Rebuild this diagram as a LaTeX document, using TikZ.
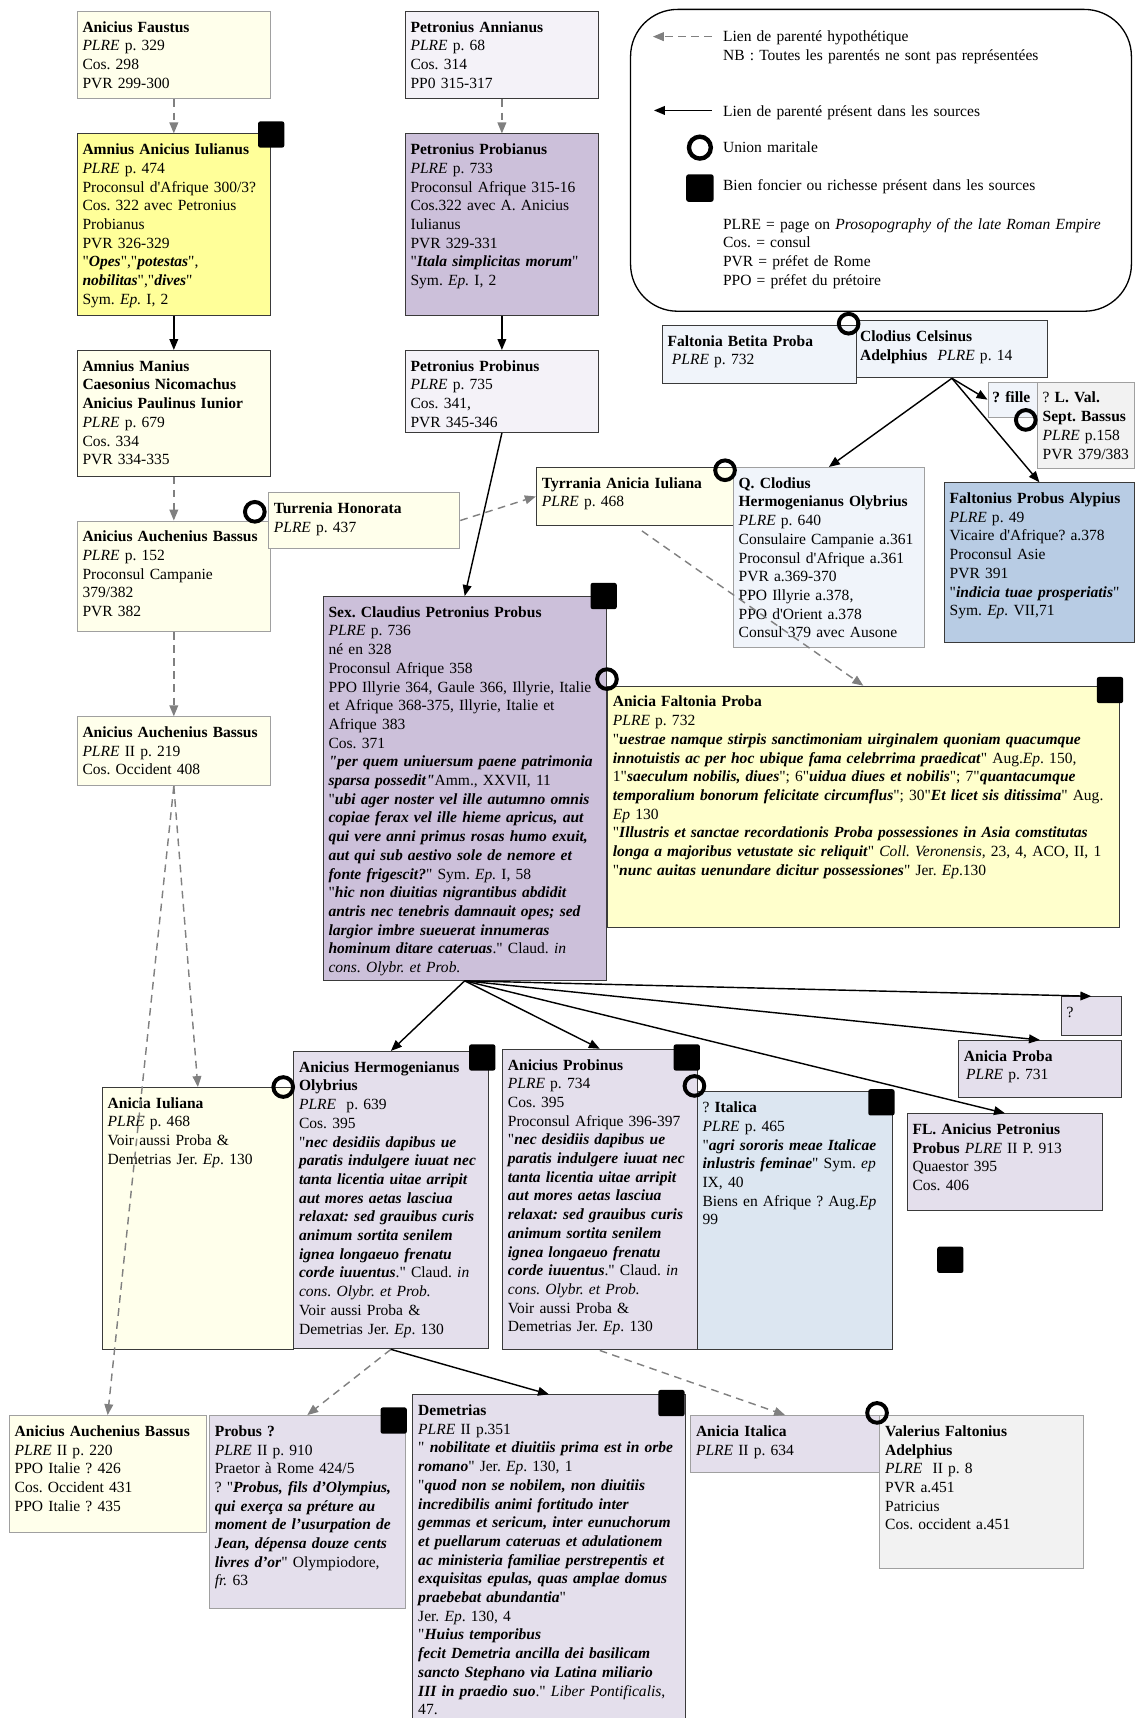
\documentclass[tikz,border=0pt]{standalone}
\usepackage{fontspec}
\setmainfont{Liberation Serif}[Ligatures=TeXOff]
\usepackage{tikz}
\usetikzlibrary{arrows.meta}
\frenchspacing

\definecolor{cIvory}{HTML}{FFFFEB}
\definecolor{cLemon}{HTML}{FFFF99}
\definecolor{cCream}{HTML}{FFFFCC}
\definecolor{cMauve}{HTML}{CCC0DA}
\definecolor{cPaleMauve}{HTML}{F4F2F8}
\definecolor{cLilac}{HTML}{E4DFEC}
\definecolor{cPaleBlue}{HTML}{F0F4FA}
\definecolor{cSky}{HTML}{DCE6F1}
\definecolor{cSteel}{HTML}{B8CCE4}
\definecolor{cSmoke}{HTML}{F2F2F2}
\definecolor{cEdge}{HTML}{3A3A3A}
\definecolor{cFaintEdge}{HTML}{A0A0A0}
\definecolor{cHyp}{HTML}{808080}

\newcommand{\pfont}{\fontsize{14.2}{17.1}\selectfont}
\newcommand{\bi}[1]{\textbf{\textit{#1}}}
\newcommand{\plre}{\textit{PLRE}}

\tikzset{
  pers/.style={draw=cEdge, line width=0.9pt, anchor=north west, align=left,
    inner xsep=5pt, inner ysep=0pt, text height=19pt, font=\pfont},
  faint/.style={draw=cFaintEdge},
  link/.style={-{Triangle[length=10pt,width=8pt]}, line width=1.3pt},
  hyp/.style={-{Triangle[length=10pt,width=8pt]}, draw=cHyp, line width=1.3pt, dash pattern=on 7pt off 5pt},
  union/.style={circle, draw, line width=3.6pt, minimum size=18pt, inner sep=0pt},
  estate/.style={fill=black, rounded corners=2pt, minimum size=24pt, inner sep=0pt},
  legtxt/.style={anchor=base west, inner sep=0pt, align=left, text width=370pt, font=\pfont},
}

\begin{document}
\begin{tikzpicture}[x=1pt, y=-1pt]
\useasboundingbox (0,0) rectangle (1039,1571);

% Legend
\node[draw, line width=1.2pt, rounded corners=43pt, anchor=north west, minimum width=458pt, minimum height=276pt, inner sep=0pt] (legend) at (576,8) {};
\coordinate (hypA) at (651,33.5);
\coordinate (hypB) at (597,33.5);
\draw[hyp] (hypA) -- (hypB);
\coordinate (srcA) at (651,101);
\coordinate (srcB) at (598,101);
\draw[link] (srcA) -- (srcB);
\node[union, minimum size=20pt, line width=4pt] (legU) at (640,135) {};
\node[estate, minimum size=25pt] (legE) at (640,172) {};
\node[legtxt] (legHyp) at (661,38) {Lien de parenté hypothétique\\NB : Toutes les parentés ne sont pas représentées};
\node[legtxt] (legSrc) at (661,106.5) {Lien de parenté présent dans les sources};
\node[legtxt] (legUnion) at (661,139.5) {Union maritale};
\node[legtxt] (legEstate) at (661,174.5) {Bien foncier ou richesse présent dans les sources};
\node[legtxt] (legAbbr) at (661,209.5) {PLRE = page on \textit{Prosopography of the late Roman Empire}\\Cos. = consul\\PVR = préfet de Rome\\PPO = préfet du prétoire};

% Anicii, left column
\node[pers, faint, fill=cIvory, text width=167pt, text depth=61pt] (faustus) at (70,10)
  {\textbf{Anicius Faustus}\\\plre{} p. 329\\Cos. 298\\PVR 299-300};
\node[pers, fill=cLemon, text width=167pt, text depth=147pt] (iulianus) at (70,122)
  {\textbf{Amnius Anicius Iulianus}\\\plre{} p. 474\\Proconsul d'Afrique 300/3?\\Cos. 322 avec Petronius\\Probianus\\PVR 326-329\\"\bi{Opes}","\bi{potestas}",\\\bi{nobilitas}","\bi{dives}"\\Sym. \textit{Ep.} I, 2};
\node[pers, fill=cIvory, text width=167pt, text depth=96pt] (paulinus) at (70,320)
  {\textbf{Amnius Manius}\\\textbf{Caesonius Nicomachus}\\\textbf{Anicius Paulinus Iunior}\\\plre{} p. 679\\Cos. 334\\PVR 334-335};
\node[pers, faint, fill=cIvory, text width=167pt, text depth=82pt] (bassus1) at (70,476)
  {\textbf{Anicius Auchenius Bassus}\\\plre{} p. 152\\Proconsul Campanie\\379/382\\PVR 382};
\node[pers, faint, fill=cIvory, text width=165pt, text depth=32pt] (honorata) at (245,450)
  {\textbf{Turrenia Honorata}\\\plre{} p. 437};
\node[pers, faint, fill=cIvory, text width=167pt, text depth=44pt] (bassus2) at (70,655)
  {\textbf{Anicius Auchenius Bassus}\\\plre{} II p. 219\\Cos. Occident 408};

% Petronii
\node[pers, fill=cPaleMauve, text width=167pt, text depth=61pt] (annianus) at (370,10)
  {\textbf{Petronius Annianus}\\\plre{} p. 68\\Cos. 314\\PP0 315-317};
\node[pers, fill=cMauve, text width=167pt, text depth=147pt] (probianus) at (370,122)
  {\textbf{Petronius Probianus}\\\plre{} p. 733\\Proconsul Afrique 315-16\\Cos.322 avec A. Anicius\\Iulianus\\PVR 329-331\\"\bi{Itala simplicitas morum}"\\Sym. \textit{Ep.} I, 2};
\node[pers, fill=cPaleMauve, text width=167pt, text depth=56pt] (probinus) at (370,320)
  {\textbf{Petronius Probinus}\\\plre{} p. 735\\Cos. 341,\\PVR 345-346};
\node[pers, fill=cIvory, text width=170pt, text depth=34pt] (tyrrania) at (490,427)
  {\textbf{Tyrrania Anicia Iuliana}\\\plre{} p. 468};

% Clodii
\node[pers, fill=cPaleBlue, text width=168pt, text depth=34pt] (betita) at (605,297)
  {\textbf{Faltonia Betita Proba}\\\hspace*{4pt}\plre{} p. 732};
\node[pers, fill=cPaleBlue, inner xsep=3pt, text width=168pt, text depth=33pt] (celsinus) at (783,293)
  {\textbf{Clodius Celsinus}\\\textbf{Adelphius}\ \ \plre{} p. 14};
\node[pers, faint, fill=cPaleBlue, inner xsep=4pt, text width=39pt, text depth=13pt] (fille) at (903,349)
  {\mbox{\textbf{? fille}}};
\node[pers, faint, fill=cSmoke, text width=79pt, text depth=60pt] (sbassus) at (948,349)
  {? \textbf{L. Val.}\\\textbf{Sept. Bassus}\\\plre{} p.158\\PVR 379/383};
\node[pers, faint, fill=cPaleBlue, text width=165pt, text depth=146pt] (olybrius) at (670,427)
  {\textbf{Q. Clodius}\\\textbf{Hermogenianus Olybrius}\\\plre{} p. 640\\Consulaire Campanie a.361\\Proconsul d'Afrique a.361\\PVR a.369-370\\PPO Illyrie a.378,\\PPO d'Orient a.378\\Consul 379 avec Ausone};
\node[pers, fill=cSteel, text width=164pt, text depth=127pt] (alypius) at (863,441)
  {\textbf{Faltonius Probus Alypius}\\\plre{} p. 49\\Vicaire d'Afrique? a.378\\Proconsul Asie\\PVR 391\\"\bi{indicia tuae prosperiatis}"\\Sym. \textit{Ep.} VII,71};

% Probus and Proba
\node[pers, fill=cMauve, text width=249pt, text depth=332pt] (probus) at (295,545)
  {\textbf{Sex. Claudius Petronius Probus}\\\plre{} p. 736\\né en 328\\Proconsul Afrique 358\\PPO Illyrie 364, Gaule 366, Illyrie, Italie\\et Afrique 368-375, Illyrie, Italie et\\Afrique 383\\Cos. 371\\
  \bi{"per quem uniuersum paene patrimonia}\\\bi{sparsa possedit"}Amm., XXVII, 11\\
  "\bi{ubi ager noster vel ille autumno omnis}\\\bi{copiae ferax vel ille hieme apricus, aut}\\\bi{qui vere anni primus rosas humo exuit,}\\\bi{aut qui sub aestivo sole de nemore et}\\\bi{fonte frigescit?}" Sym. \textit{Ep.} I, 58\\
  "\bi{hic non diuitias nigrantibus abdidit}\\\bi{antris nec tenebris damnauit opes; sed}\\\bi{largior imbre sueuerat innumeras}\\\bi{hominum ditare cateruas}." Claud. \textit{in}\\\textit{cons. Olybr. et Prob.}};
\node[pers, fill=cCream, text width=458pt, text depth=202pt] (proba) at (555,627)
  {\textbf{Anicia Faltonia Proba}\\\plre{} p. 732\\
  "\bi{uestrae namque stirpis sanctimoniam uirginalem quoniam quacumque}\\
  \bi{innotuistis ac per hoc ubique fama celebrrima praedicat}" Aug.\textit{Ep}. 150,\\
  1"\bi{saeculum nobilis, diues}"; 6"\bi{uidua diues et nobilis}"; 7"\bi{quantacumque}\\
  \bi{temporalium bonorum felicitate circumflus}"; 30"\bi{Et licet sis ditissima}" Aug.\\
  \textit{Ep} 130\\
  "\bi{Illustris et sanctae recordationis Proba possessiones in Asia comstitutas}\\
  \bi{longa a majoribus vetustate sic reliquit}" \textit{Coll. Veronensis}, 23, 4, ACO, II, 1\\
  "\bi{nunc auitas uenundare dicitur possessiones}" Jer. \textit{Ep}.130};

% Children of Probus and Proba
\node[pers, fill=cLilac, text width=45pt, text depth=16pt] (unknown) at (970,911) {?};
\node[pers, fill=cLilac, text width=139pt, text depth=33pt] (aproba) at (876,951)
  {\textbf{Anicia Proba}\\\hspace*{2pt}\plre{} p. 731};
\node[pers, fill=cLilac, text width=169pt, text depth=69pt] (flprobus) at (829,1018)
  {\textbf{FL. Anicius Petronius}\\\textbf{Probus} \plre{} II P. 913\\Quaestor 395\\Cos. 406};
\node[pers, fill=cIvory, text width=165pt, text depth=221pt] (iuliana) at (93,994)
  {\textbf{Anicia Iuliana}\\\plre{} p. 468\\Voir aussi Proba \&\\Demetrias Jer. \textit{Ep}. 130};
\node[pers, fill=cLilac, text width=168pt, text depth=253pt] (olybrius2) at (268,961)
  {\textbf{Anicius Hermogenianus}\\\textbf{Olybrius}\\\plre{}\ \ p. 639\\Cos. 395\\
  "\bi{nec desidiis dapibus ue}\\\bi{paratis indulgere iuuat nec}\\\bi{tanta licentia uitae arripit}\\\bi{aut mores aetas lasciua}\\\bi{relaxat: sed grauibus curis}\\\bi{animum sortita senilem}\\\bi{ignea longaeuo frenatu}\\\bi{corde iuuentus}." Claud. \textit{in}\\\textit{cons. Olybr. et Prob.}\\Voir aussi Proba \&\\Demetrias Jer. \textit{Ep}. 130};
\node[pers, fill=cLilac, text width=168pt, text depth=256pt] (aprobinus) at (459,959)
  {\textbf{Anicius Probinus}\\\plre{} p. 734\\Cos. 395\\Proconsul Afrique 396-397\\
  "\bi{nec desidiis dapibus ue}\\\bi{paratis indulgere iuuat nec}\\\bi{tanta licentia uitae arripit}\\\bi{aut mores aetas lasciua}\\\bi{relaxat: sed grauibus curis}\\\bi{animum sortita senilem}\\\bi{ignea longaeuo frenatu}\\\bi{corde iuuentus}." Claud. \textit{in}\\\textit{cons. Olybr. et Prob.}\\Voir aussi Proba \&\\Demetrias Jer. \textit{Ep}. 130};
\node[pers, fill=cSky, text width=169pt, text depth=217pt] (italica) at (637,998)
  {? \textbf{Italica}\\\plre{} p. 465\\"\bi{agri sororis meae Italicae}\\\bi{inlustris feminae}" Sym. \textit{ep}\\IX, 40\\Biens en Afrique ? Aug.\textit{Ep}\\99};

% Grandchildren
\node[pers, faint, fill=cIvory, text width=170pt, text depth=88pt] (bassus3) at (8,1294)
  {\textbf{Anicius Auchenius Bassus}\\\plre{} II p. 220\\PPO Italie ? 426\\Cos. Occident 431\\PPO Italie ? 435};
\node[pers, faint, fill=cLilac, text width=169pt, text depth=157pt] (probus3) at (191,1294)
  {\textbf{Probus ?}\\\plre{} II p. 910\\Praetor à Rome 424/5\\? "\bi{Probus, fils d’Olympius,}\\\bi{qui exerça sa préture au}\\\bi{moment de l’usurpation de}\\\bi{Jean, dépensa douze cents}\\\bi{livres d’or}" Olympiodore,\\\textit{fr.} 63};
\node[pers, fill=cLilac, text width=239pt, text depth=286pt] (demetrias) at (377,1275)
  {\textbf{Demetrias}\\\plre{} II p.351\\" \bi{nobilitate et diuitiis prima est in orbe}\\\bi{romano}" Jer. \textit{Ep}. 130, 1\\
  "\bi{quod non se nobilem, non diuitiis}\\\bi{incredibilis animi fortitudo inter}\\\bi{gemmas et sericum, inter eunuchorum}\\\bi{et puellarum cateruas et adulationem}\\\bi{ac ministeria familiae perstrepentis et}\\\bi{exquisitas epulas, quas amplae domus}\\\bi{praebebat abundantia}"\\Jer. \textit{Ep}. 130, 4\\
  "\bi{Huius temporibus}\\\bi{fecit Demetria ancilla dei basilicam}\\\bi{sancto Stephano via Latina miliario}\\\bi{III in praedio suo}." \textit{Liber Pontificalis},\\47.};
\node[pers, faint, fill=cLilac, text width=163pt, text depth=33pt] (aitalica) at (631,1294)
  {\textbf{Anicia Italica}\\\plre{} II p. 634};
\node[pers, faint, fill=cSmoke, text width=176pt, text depth=121pt] (valerius) at (804,1294)
  {\textbf{Valerius Faltonius}\\\textbf{Adelphius}\\\plre{}\ \ II p. 8\\PVR a.451\\Patricius\\Cos. occident a.451};

% Hypothetical links
\draw[hyp] (faustus.south) -- (iulianus.north);
\draw[hyp] (paulinus.south) -- (bassus1.north);
\draw[hyp] (bassus1.south) -- (bassus2.north);
\draw[hyp] (bassus2.south) -- (iuliana.north);
\draw[hyp] (bassus2.south) -- (bassus3.north);
\draw[hyp] (honorata.east) -- (tyrrania.west);
\draw[hyp] (annianus.south) -- (probianus.north);
\draw[hyp, shorten <=8pt] (tyrrania.south) -- (proba.north);
\draw[hyp] (olybrius2.south) -- (probus3.north);
\draw[hyp] (aprobinus.south) -- (aitalica.north);

% Links found in the sources
\draw[link] (iulianus.south) -- (paulinus.north);
\draw[link] (probianus.south) -- (probinus.north);
\draw[link] (probinus.south) -- (probus.north);
\draw[link] (celsinus.south) -- (olybrius.north);
\draw[link] (celsinus.south) -- (fille.west);
\draw[link] (celsinus.south) -- (alypius.north);
\draw[link] (probus.south) -- (olybrius2.north);
\draw[link] (probus.south) -- (aprobinus.north);
\draw[link] (probus.south) -- (unknown.north);
\draw[link] (probus.south) -- (aproba.north);
\draw[link] (probus.south) -- (flprobus.north);
\draw[link] (olybrius2.south) -- (demetrias.north);

% Marriages
\node[union] (u1) at (233,468) {};
\node[union] (u2) at (663,430) {};
\node[union] (u3) at (776,296) {};
\node[union] (u4) at (938,384) {};
\node[union] (u5) at (555,621) {};
\node[union] (u6) at (259,994) {};
\node[union] (u7) at (635,993) {};
\node[union] (u8) at (802,1292) {};

% Landed property
\node[estate] (e1) at (248,123) {};
\node[estate] (e2) at (552,545) {};
\node[estate] (e3) at (1015,631) {};
\node[estate] (e4) at (441,967) {};
\node[estate] (e5) at (628,967) {};
\node[estate] (e6) at (806,1008) {};
\node[estate] (e7) at (869,1152) {};
\node[estate] (e8) at (360,1299) {};
\node[estate] (e9) at (614,1283) {};
\end{tikzpicture}
\end{document}
